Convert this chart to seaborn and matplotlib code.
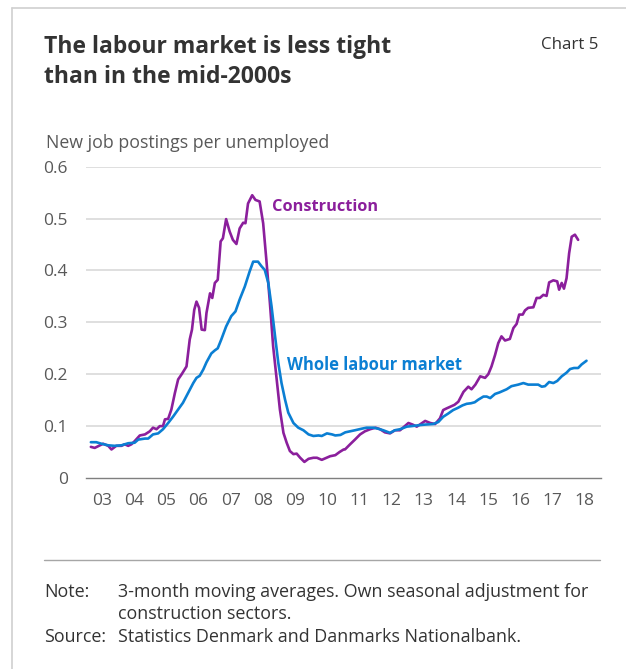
import numpy as np
import pandas as pd
import matplotlib
matplotlib.use('Agg')
import matplotlib.pyplot as plt
import seaborn as sns
from matplotlib.lines import Line2D

# %%
# data (decimal year, new job postings per unemployed)
constr_t = [2003.16, 2003.28, 2003.54, 2003.70, 2003.80, 2003.95, 2004.11, 2004.21, 2004.32,
            2004.42, 2004.52, 2004.68, 2004.84, 2004.99, 2005.09, 2005.20, 2005.30, 2005.40,
            2005.46, 2005.56, 2005.66, 2005.77, 2005.87, 2005.98, 2006.13, 2006.23, 2006.30,
            2006.37, 2006.44, 2006.52, 2006.60, 2006.70, 2006.75, 2006.86, 2006.93, 2007.01,
            2007.10, 2007.19, 2007.26, 2007.36, 2007.47, 2007.57, 2007.68, 2007.78, 2007.89,
            2007.96, 2008.04, 2008.17, 2008.27, 2008.40, 2008.51, 2008.61, 2008.72, 2008.82,
            2008.93, 2009.03, 2009.14, 2009.24, 2009.34, 2009.45, 2009.55, 2009.66, 2009.79,
            2009.92, 2010.07, 2010.18, 2010.33, 2010.44, 2010.59, 2010.75, 2010.88, 2011.01,
            2011.05, 2011.21, 2011.36, 2011.52, 2011.67, 2011.83, 2012.00, 2012.14, 2012.29,
            2012.45, 2012.60, 2012.76, 2012.91, 2013.02, 2013.15, 2013.28, 2013.40, 2013.54,
            2013.70, 2013.85, 2014.00, 2014.10, 2014.20, 2014.31, 2014.45, 2014.57, 2014.73,
            2014.88, 2014.98, 2015.10, 2015.25, 2015.40, 2015.50, 2015.60, 2015.71, 2015.81,
            2015.91, 2016.02, 2016.17, 2016.28, 2016.38, 2016.46, 2016.57, 2016.64, 2016.74,
            2016.90, 2017.00, 2017.10, 2017.21, 2017.31, 2017.39, 2017.52, 2017.64, 2017.70,
            2017.78, 2017.85, 2017.93, 2018.01, 2018.09, 2018.19, 2018.29]
constr_v = [0.060, 0.058, 0.066, 0.062, 0.055, 0.062, 0.062, 0.065, 0.062,
            0.065, 0.071, 0.082, 0.084, 0.090, 0.097, 0.094, 0.100, 0.100,
            0.113, 0.114, 0.132, 0.164, 0.190, 0.200, 0.215, 0.267, 0.286,
            0.324, 0.340, 0.328, 0.286, 0.285, 0.318, 0.356, 0.347, 0.376,
            0.382, 0.456, 0.462, 0.499, 0.475, 0.459, 0.451, 0.481, 0.492,
            0.491, 0.529, 0.545, 0.536, 0.533, 0.491, 0.420, 0.337, 0.254,
            0.190, 0.132, 0.087, 0.068, 0.052, 0.046, 0.047, 0.039, 0.031,
            0.037, 0.039, 0.039, 0.035, 0.038, 0.042, 0.044, 0.050, 0.055,
            0.055, 0.065, 0.074, 0.084, 0.090, 0.094, 0.097, 0.094, 0.088,
            0.086, 0.092, 0.092, 0.100, 0.106, 0.103, 0.099, 0.104, 0.110,
            0.106, 0.104, 0.115, 0.131, 0.134, 0.137, 0.141, 0.147, 0.166,
            0.176, 0.171, 0.180, 0.196, 0.193, 0.200, 0.215, 0.237, 0.260,
            0.273, 0.265, 0.268, 0.289, 0.297, 0.315, 0.315, 0.323, 0.328,
            0.329, 0.347, 0.347, 0.353, 0.351, 0.377, 0.381, 0.379, 0.363,
            0.376, 0.365, 0.385, 0.433, 0.465, 0.469, 0.459]

whole_t = [2003.16, 2003.33, 2003.49, 2003.70, 2003.90, 2004.11, 2004.32, 2004.52, 2004.63,
           2004.84, 2004.94, 2005.09, 2005.25, 2005.40, 2005.56, 2005.71, 2005.87, 2006.02,
           2006.18, 2006.34, 2006.44, 2006.54, 2006.65, 2006.75, 2006.90, 2007.01, 2007.10,
           2007.21, 2007.36, 2007.52, 2007.65, 2007.78, 2007.94, 2008.09, 2008.20, 2008.35,
           2008.46, 2008.56, 2008.67, 2008.77, 2008.88, 2008.98, 2009.08, 2009.19, 2009.29,
           2009.45, 2009.60, 2009.76, 2009.92, 2010.07, 2010.23, 2010.33, 2010.49, 2010.65,
           2010.75, 2010.91, 2011.06, 2011.21, 2011.36, 2011.57, 2011.72, 2011.93, 2012.08,
           2012.24, 2012.45, 2012.60, 2012.76, 2012.97, 2013.12, 2013.38, 2013.55, 2013.79,
           2013.95, 2014.10, 2014.25, 2014.41, 2014.55, 2014.70, 2014.83, 2014.96, 2015.08,
           2015.19, 2015.35, 2015.45, 2015.56, 2015.71, 2015.85, 2016.07, 2016.22, 2016.43,
           2016.59, 2016.74, 2016.90, 2017.05, 2017.16, 2017.26, 2017.39, 2017.52, 2017.64,
           2017.78, 2017.93, 2018.04, 2018.16, 2018.29, 2018.40, 2018.55]
whole_v = [0.069, 0.069, 0.066, 0.063, 0.062, 0.063, 0.067, 0.068, 0.074,
           0.076, 0.076, 0.084, 0.086, 0.094, 0.106, 0.118, 0.132, 0.145,
           0.164, 0.183, 0.193, 0.197, 0.209, 0.223, 0.240, 0.246, 0.250,
           0.267, 0.292, 0.312, 0.321, 0.344, 0.369, 0.398, 0.417, 0.417,
           0.408, 0.401, 0.376, 0.331, 0.273, 0.222, 0.183, 0.151, 0.126,
           0.106, 0.097, 0.092, 0.084, 0.081, 0.082, 0.081, 0.086, 0.084,
           0.082, 0.083, 0.088, 0.090, 0.092, 0.095, 0.097, 0.097, 0.095,
           0.092, 0.087, 0.092, 0.094, 0.099, 0.100, 0.102, 0.103, 0.104,
           0.108, 0.118, 0.124, 0.131, 0.135, 0.140, 0.143, 0.144, 0.146,
           0.151, 0.157, 0.157, 0.154, 0.162, 0.165, 0.171, 0.177, 0.180,
           0.183, 0.180, 0.180, 0.180, 0.176, 0.177, 0.185, 0.183, 0.187,
           0.196, 0.203, 0.210, 0.212, 0.212, 0.219, 0.226]

years = list(range(2003, 2019))
year_labels = ['%02d' % (y % 100) for y in years]
yticks = [0, 0.1, 0.2, 0.3, 0.4, 0.5, 0.6]
ytick_labels = ['0', '0.1', '0.2', '0.3', '0.4', '0.5', '0.6']

purple = '#8b1f9c'
blue = '#0b7fd3'

df = pd.concat([
    pd.DataFrame({'t': constr_t, 'v': constr_v, 'series': 'Construction'}),
    pd.DataFrame({'t': whole_t, 'v': whole_v, 'series': 'Whole labour market'}),
])

# %%
sns.set_style('white')
plt.rcParams['font.family'] = ['Open Sans', 'DejaVu Sans']

fig = plt.figure(figsize=(6.26, 6.69), dpi=100)
ax = fig.add_axes([85.7 / 626, 1 - 478 / 669, (601 - 85.7) / 626, (478 - 166.7) / 669])

sns.lineplot(data=df, x='t', y='v', hue='series', palette={'Construction': purple,
             'Whole labour market': blue}, linewidth=1.9, ax=ax, legend=False, sort=True)

ax.set_xlim(2003, 2019)
ax.set_ylim(0, 0.6)
ax.set_xlabel('')
ax.set_ylabel('')

# grid
for y in yticks[1:]:
    ax.axhline(y, color='#d9d9d9', lw=1.2, zorder=0)

for s in ['top', 'right', 'left']:
    ax.spines[s].set_visible(False)
ax.spines['bottom'].set_color('#7f7f7f')
ax.spines['bottom'].set_linewidth(1.0)

tick_c = '#595959'
ax.set_yticks(yticks)
ax.set_yticklabels(ytick_labels, color=tick_c, fontsize=12.5)
ax.tick_params(axis='y', length=0, pad=13)

ax.set_xticks(list(range(2003, 2020)))
ax.set_xticklabels([])
ax.tick_params(axis='x', which='major', direction='in', length=4, color='#7f7f7f', width=1)
ax.set_xticks([y + 0.5 for y in years], minor=True)
ax.set_xticklabels(year_labels, minor=True, color=tick_c, fontsize=12.5)
ax.tick_params(axis='x', which='minor', length=0, pad=11)

ax.text(2008.79, 0.522, 'Construction', color=purple, fontsize=11.8, fontweight='bold',
        va='center', ha='left')
ax.text(2009.25, 0.218, 'Whole labour market', color=blue, fontsize=11.9, fontweight='bold',
        va='center', ha='left')

# titles and notes
fig.text(44 / 626, 1 - 47 / 669, 'The labour market is less tight', fontsize=16.5,
         fontweight='bold', color='#333333', va='center')
fig.text(44 / 626, 1 - 77 / 669, 'than in the mid-2000s', fontsize=16.5,
         fontweight='bold', color='#333333', va='center')
fig.text(598 / 626, 1 - 45 / 669, 'Chart 5', fontsize=12.2, color='#333333', va='center',
         ha='right')
fig.text(46 / 626, 1 - 143 / 669, 'New job postings per unemployed', fontsize=12.8,
         color=tick_c, va='center')

fig.add_artist(Line2D([44 / 626, 600 / 626], [1 - 560 / 669, 1 - 560 / 669],
                      color='#a6a6a6', lw=1))
fig.add_artist(Line2D([11.5 / 626, 11.5 / 626], [0, 1 - 8 / 669], color='#d0d0d0', lw=1.2))
fig.add_artist(Line2D([11.5 / 626, 1], [1 - 8 / 669, 1 - 8 / 669], color='#d0d0d0', lw=1.2))

note_c = '#333333'
fs = 12.9
fig.text(44 / 626, 1 - 592 / 669, 'Note:', fontsize=fs, color=note_c, va='center')
fig.text(118 / 626, 1 - 592 / 669, '3-month moving averages. Own seasonal adjustment for',
         fontsize=fs, color=note_c, va='center')
fig.text(118 / 626, 1 - 614 / 669, 'construction sectors.', fontsize=fs, color=note_c,
         va='center')
fig.text(44 / 626, 1 - 637 / 669, 'Source:', fontsize=fs, color=note_c, va='center')
fig.text(118 / 626, 1 - 637 / 669, 'Statistics Denmark and Danmarks Nationalbank.',
         fontsize=fs, color=note_c, va='center')

fig.savefig('out.png', dpi=100)
